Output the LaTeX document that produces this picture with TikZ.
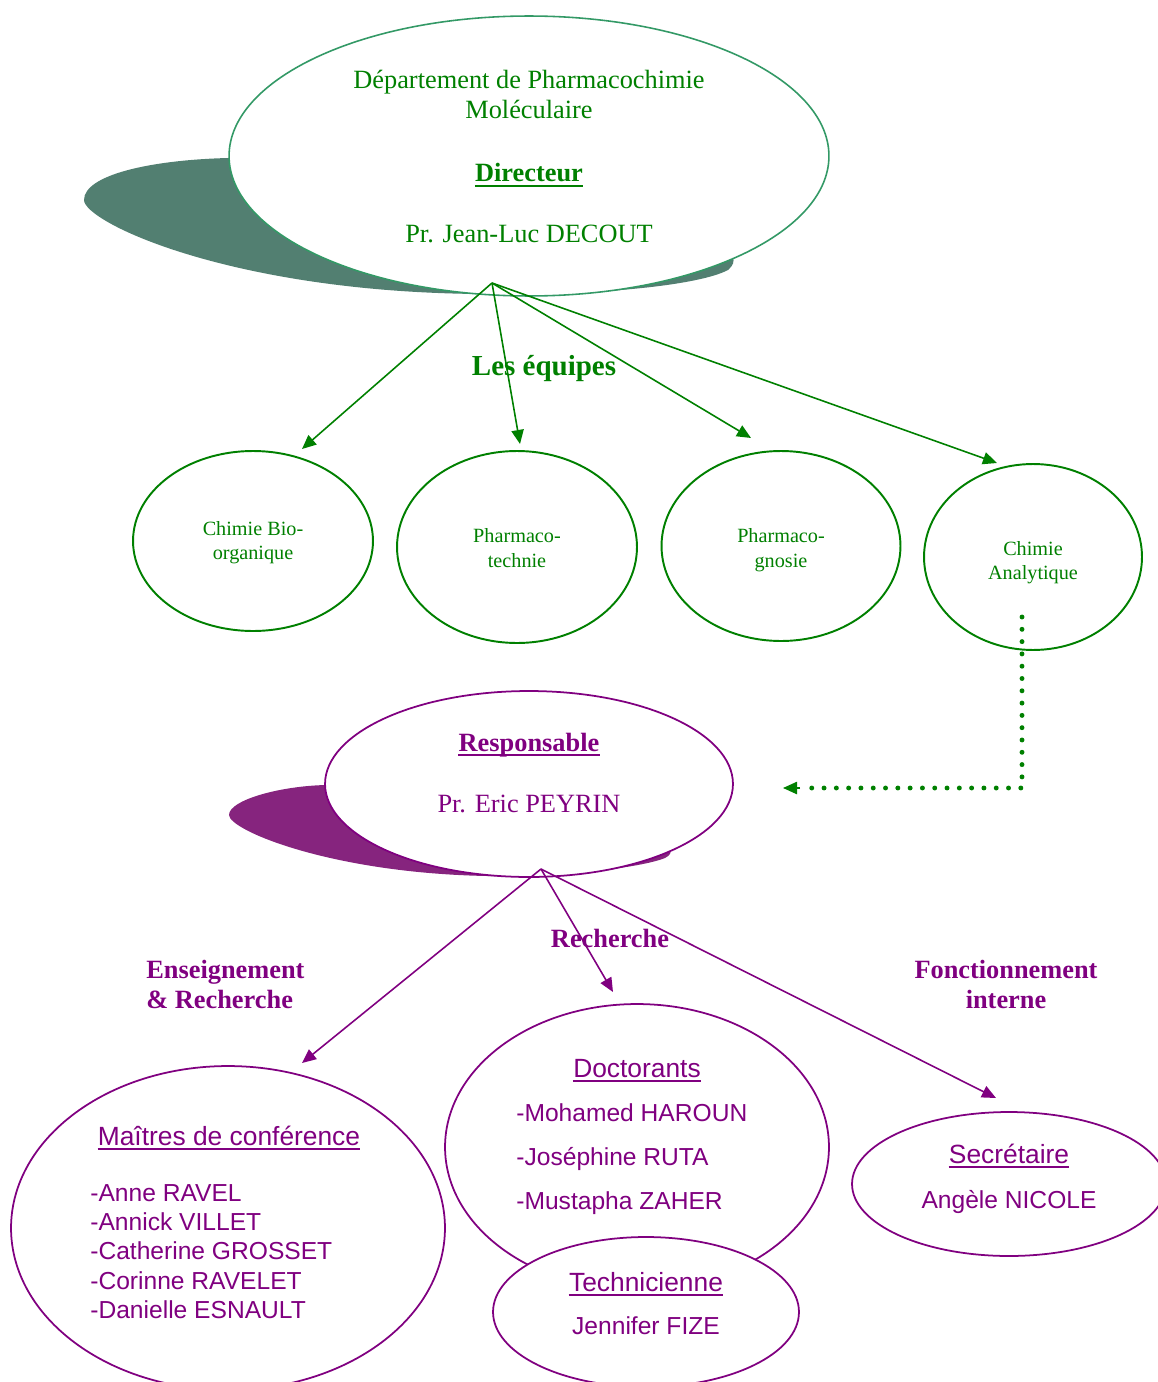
\documentclass[tikz,border=0pt]{standalone}
\usepackage{fontspec}
\setmainfont{Liberation Serif}
\newfontfamily\gothic{Liberation Sans}
\usetikzlibrary{arrows.meta,shapes.geometric}
\definecolor{tgreen}{RGB}{0,128,0}
\definecolor{sgreen}{RGB}{51,153,102}
\definecolor{shgreen}{RGB}{82,127,113}
\definecolor{tpurple}{RGB}{128,0,128}
\definecolor{shpurple}{RGB}{134,36,126}
\begin{document}
\begin{tikzpicture}[x=0.02cm,y=-0.02cm,
  ell/.style={ellipse, inner sep=0pt, fill=white},
  gell/.style={ell, draw=tgreen, line width=1.1pt},
  pell/.style={ell, draw=tpurple, line width=1pt},
  lbl/.style={inner sep=0pt, anchor=base},
  lbll/.style={inner sep=0pt, anchor=base west},
  topfont/.style={font=\fontsize{15}{18}\selectfont, text=tgreen},
  teamfont/.style={font=\fontsize{11.5}{14}\selectfont, text=tgreen},
  pbold/.style={font=\fontsize{15}{18}\selectfont\bfseries, text=tpurple},
  pser/.style={font=\fontsize{15}{18}\selectfont, text=tpurple},
  psans/.style={font=\fontsize{14}{17}\selectfont\gothic, text=tpurple},
  phead/.style={font=\fontsize{15}{18}\selectfont\gothic, text=tpurple, ulined=tpurple},
  ulined/.style={append after command={([yshift=-2.4pt]\tikzlastnode.base west) edge[draw=#1, line width=1.1pt] ([yshift=-2.4pt]\tikzlastnode.base east)}},
  tipstyle/.style={-{Triangle[length=8pt,width=7pt]}},
  garrow/.style={draw=tgreen, line width=0.9pt, tipstyle},
  parrow/.style={draw=tpurple, line width=0.9pt, tipstyle},
]
\useasboundingbox (0,0) rectangle (1158,1382);
\clip (0,0) rectangle (1158,1382);

% shadows
\fill[shgreen] (228,158) .. controls (150,160) and (84,175) .. (84,200)
  .. controls (84,222) and (230,292) .. (480,294)
  .. controls (600,296) and (700,285) .. (728,270)
  .. controls (738,262) and (735,250) .. (715,250)
  -- (500,180) -- (300,150) -- cycle;
\fill[shpurple] (326,785) .. controls (280,786) and (229,800) .. (229,815)
  .. controls (229,830) and (330,873) .. (487,876)
  .. controls (560,877) and (640,868) .. (665,858)
  .. controls (675,853) and (672,845) .. (655,845)
  -- (500,800) -- (400,780) -- cycle;

% main ellipses
\node[ell, draw=sgreen, line width=0.9pt, minimum width=12cm, minimum height=5.6cm] (dept) at (529,156) {};
\node[gell, minimum width=4.8cm, minimum height=3.6cm] (team1) at (253,541) {};
\node[gell, minimum width=4.8cm, minimum height=3.84cm] (team2) at (517,547) {};
\node[gell, minimum width=4.78cm, minimum height=3.8cm] (team3) at (781,546) {};
\node[gell, minimum width=4.36cm, minimum height=3.72cm] (team4) at (1033,557) {};
\node[pell, minimum width=8.16cm, minimum height=3.72cm] (resp) at (529,784) {};
\node[pell, minimum width=8.68cm, minimum height=6.48cm] (mc) at (228,1228) {};
\node[pell, minimum width=7.68cm, minimum height=5.72cm] (doc) at (637,1147) {};
\node[pell, minimum width=6.12cm, minimum height=3.0cm] (tech) at (646,1312) {};
\node[pell, minimum width=6.28cm, minimum height=2.88cm] (sec) at (1009,1184) {};

% connector coordinates
\coordinate (o1) at (492,283);
\coordinate (a1) at (302,449);
\coordinate (a2) at (520,444);
\coordinate (a3) at (751,438);
\coordinate (a4) at (997,463);
\coordinate (o2) at (541,869);
\coordinate (b1) at (302,1063);
\coordinate (b2) at (613,992);
\coordinate (b3) at (996,1098);
\coordinate (d0) at (1022,617);
\coordinate (d1) at (1022,788);
\coordinate (d2) at (800,788);
\coordinate (d3) at (783,788);

\draw[garrow] (o1) -- (a1);
\draw[garrow] (o1) -- (a2);
\draw[garrow] (o1) -- (a3);
\draw[garrow] (o1) -- (a4);
\draw[parrow] (o2) -- (b1);
\draw[parrow] (o2) -- (b2);
\draw[parrow] (o2) -- (b3);
\draw[tgreen, line width=2.8pt, line cap=round, dash pattern=on 0pt off 7pt] (d0) -- (d1) -- (d2);
\draw[tgreen, line width=0.9pt, tipstyle] (d2) -- (d3);

% top texts
\node[lbl, topfont] (t1) at (529,89) {Département de Pharmacochimie};
\node[lbl, topfont] (t2) at (529,119) {Moléculaire};
\node[lbl, topfont, font=\fontsize{15}{18}\selectfont\bfseries, ulined=tgreen] (t3) at (529,182) {Directeur};
\node[lbl, topfont] (t4) at (529,242) {Pr. Jean-Luc DECOUT};
\node[lbl, text=tgreen, font=\fontsize{16.5}{20}\selectfont\bfseries] (eq) at (544,375) {Les équipes};

% team texts
\node[lbl, teamfont] (c1a) at (253,535) {Chimie Bio-};
\node[lbl, teamfont] (c1b) at (253,559) {organique};
\node[lbl, teamfont] (c2a) at (517,542) {Pharmaco-};
\node[lbl, teamfont] (c2b) at (517,567) {technie};
\node[lbl, teamfont] (c3a) at (781,542) {Pharmaco-};
\node[lbl, teamfont] (c3b) at (781,567) {gnosie};
\node[lbl, teamfont] (c4a) at (1033,555) {Chimie};
\node[lbl, teamfont] (c4b) at (1033,579) {Analytique};

% responsable
\node[lbl, pbold, ulined=tpurple] (r1) at (529,751) {Responsable};
\node[lbl, pser] (r2) at (529,812) {Pr. Eric PEYRIN};

% branch labels
\node[lbl, pbold] (lr) at (610,947) {Recherche};
\node[lbll, pbold] (le1) at (146,978) {Enseignement};
\node[lbll, pbold] (le2) at (146,1008) {\& Recherche};
\node[lbl, pbold] (lf1) at (1006,978) {Fonctionnement};
\node[lbl, pbold] (lf2) at (1006,1008) {interne};

% bottom texts
\node[lbl, phead] (m0) at (229,1145) {Maîtres de conférence};
\node[lbll, psans] (m1) at (90,1201) {-Anne RAVEL};
\node[lbll, psans] (m2) at (90,1230) {-Annick VILLET};
\node[lbll, psans] (m3) at (90,1259) {-Catherine GROSSET};
\node[lbll, psans] (m4) at (90,1289) {-Corinne RAVELET};
\node[lbll, psans] (m5) at (90,1318) {-Danielle ESNAULT};

\node[lbl, phead] (dc0) at (637,1077) {Doctorants};
\node[lbll, psans] (dc1) at (516,1121) {-Mohamed HAROUN};
\node[lbll, psans] (dc2) at (516,1165) {-Joséphine RUTA};
\node[lbll, psans] (dc3) at (516,1209) {-Mustapha ZAHER};

\node[lbl, phead] (te0) at (646,1291) {Technicienne};
\node[lbl, psans] (te1) at (646,1334) {Jennifer FIZE};

\node[lbl, phead] (se0) at (1009,1163) {Secrétaire};
\node[lbl, psans] (se1) at (1009,1208) {Angèle NICOLE};
\end{tikzpicture}
\end{document}
